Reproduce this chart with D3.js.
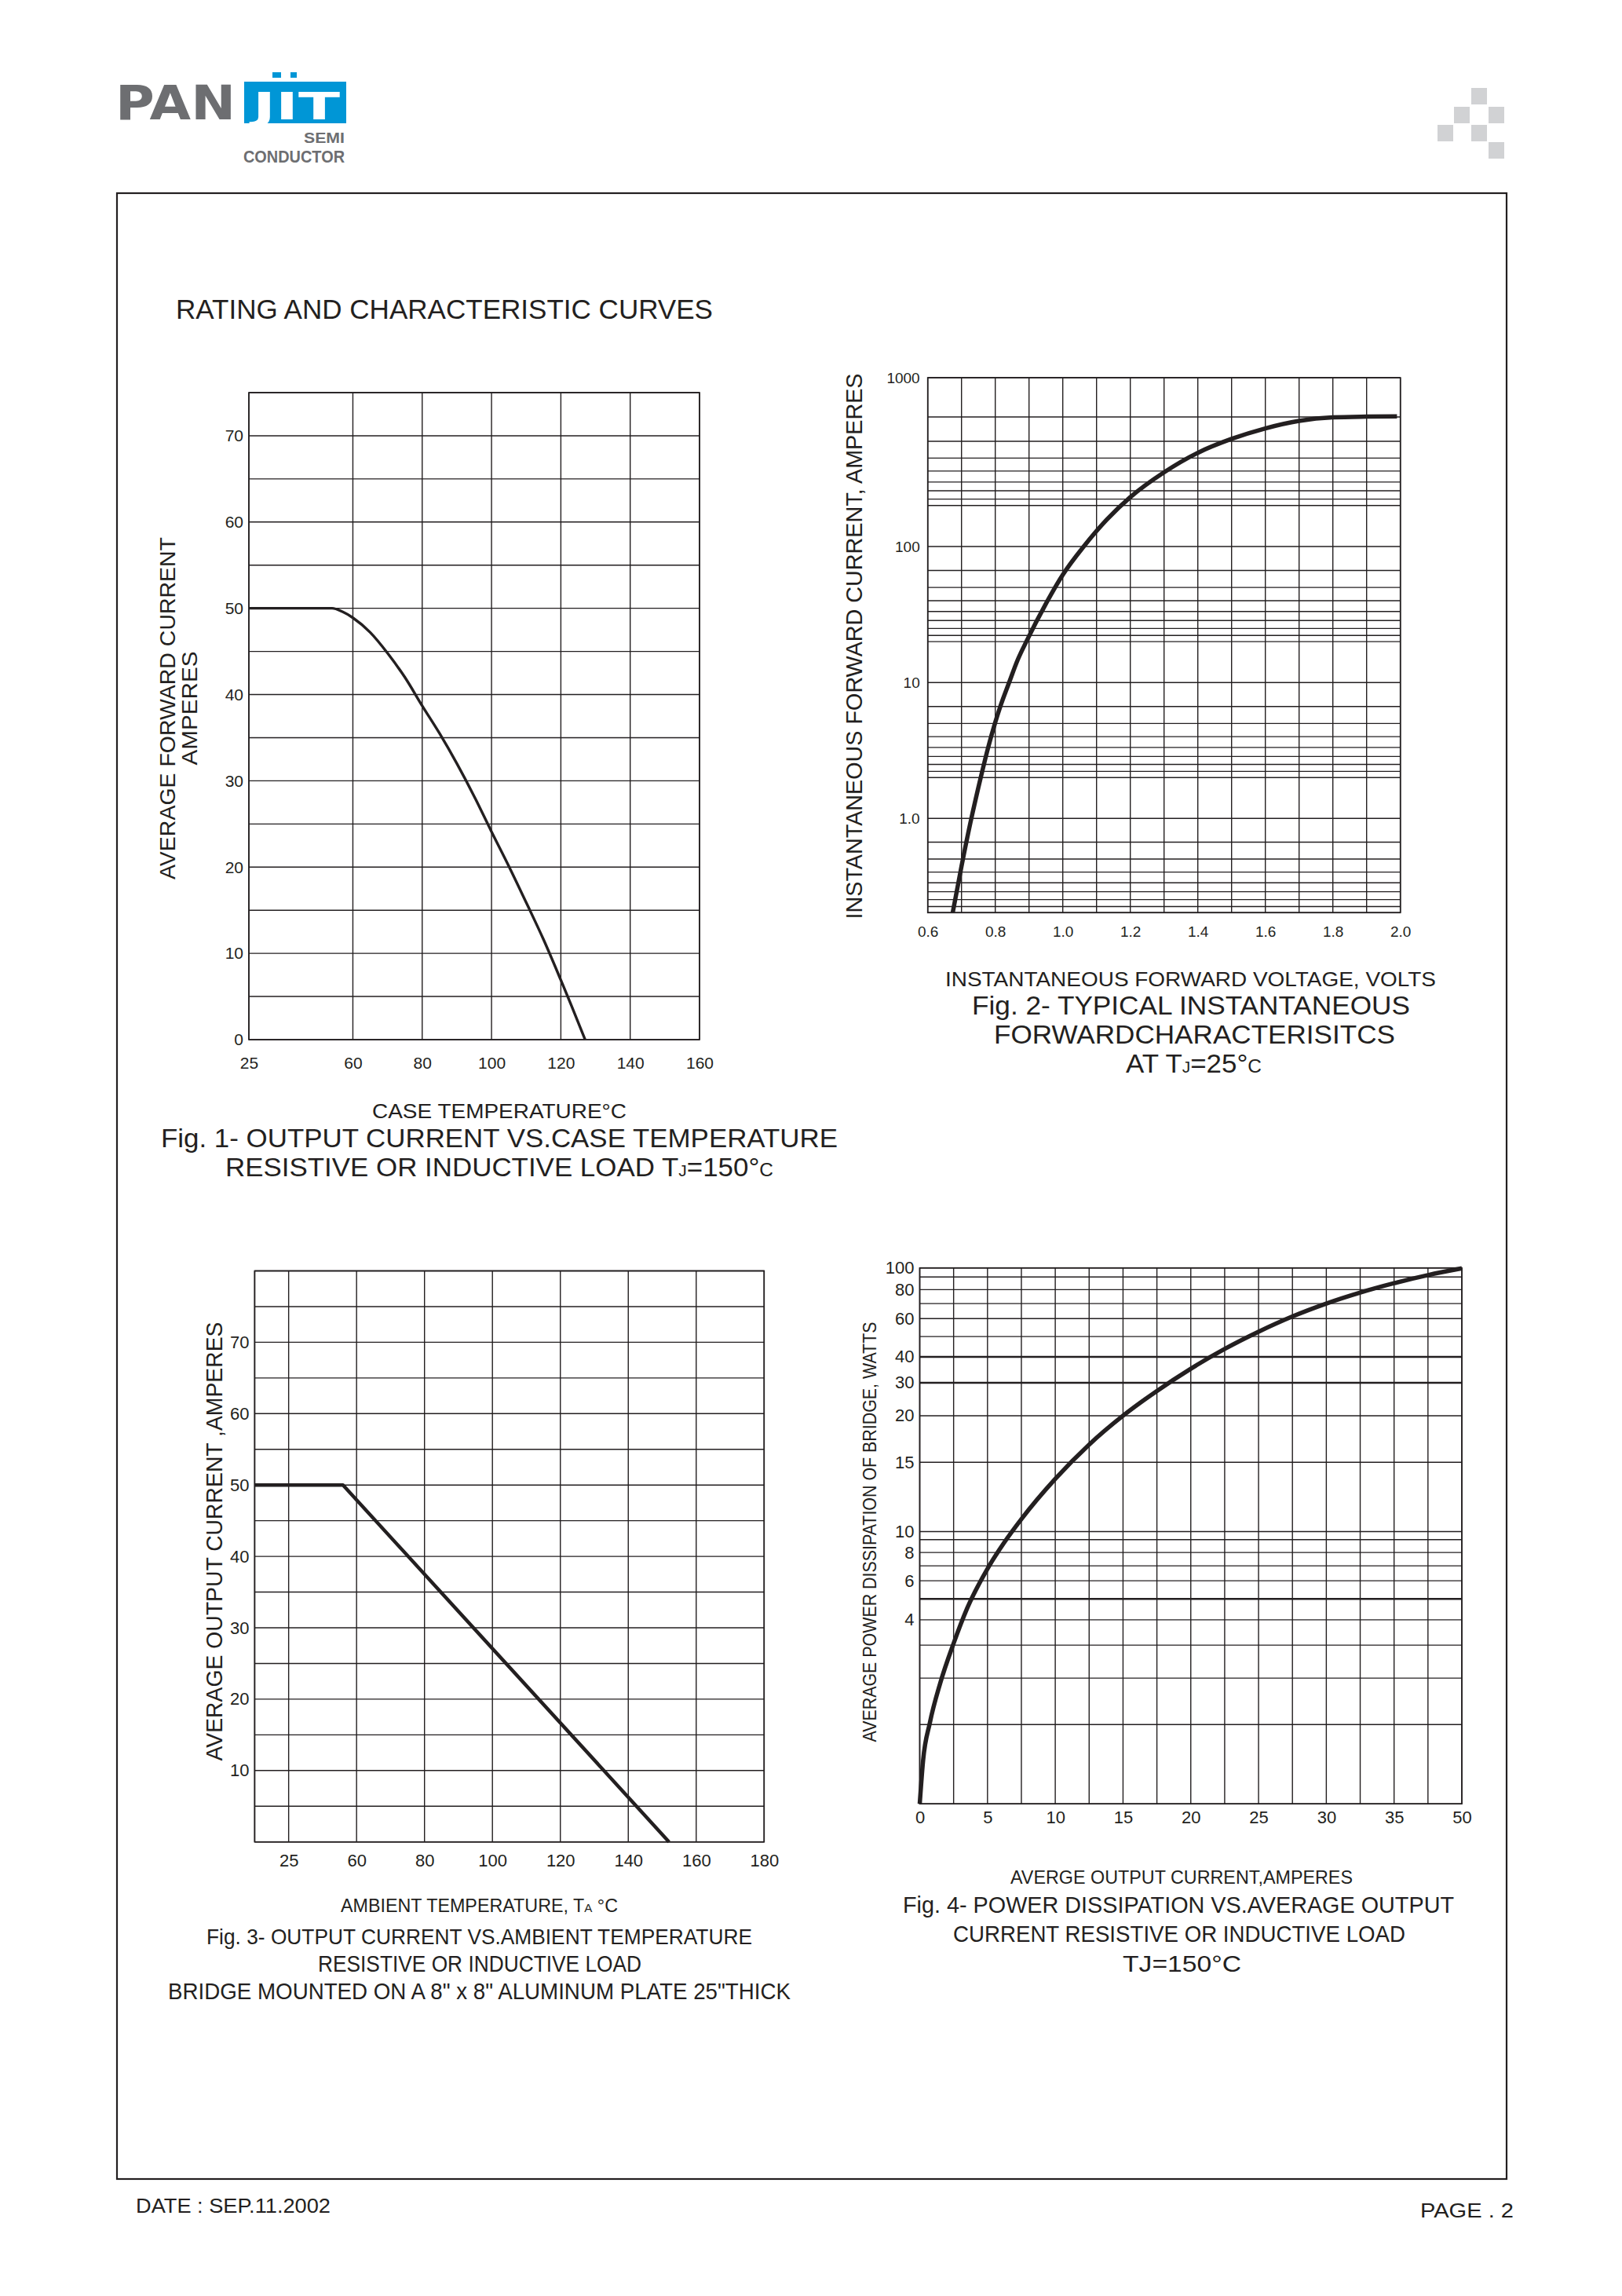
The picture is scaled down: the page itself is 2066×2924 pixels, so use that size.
<!DOCTYPE html>
<html><head><meta charset="utf-8">
<script src="https://cdn.jsdelivr.net/npm/d3@7"></script>
<style>
html,body{margin:0;padding:0;background:#fff;}
svg text{font-family:"Liberation Sans",Arial,Helvetica,sans-serif;fill:#231f20;}
</style></head><body>
<svg id="page" width="2066" height="2924" xmlns="http://www.w3.org/2000/svg"></svg>
<script>
// ---------------- DATA ----------------
// Fig 1: output current vs case temperature
const fig1Temp    = [30, 54, 57, 60, 65, 70, 75, 80, 85, 90, 95, 100, 105, 110, 115, 120, 123, 127];
const fig1Current = [50, 50, 49.6, 48.9, 47.2, 44.8, 42, 38.7, 35.5, 32, 28.2, 24.1, 20.1, 15.9, 11.6, 6.9, 4, 0];
const fig1XTicks  = [30, 60, 80, 100, 120, 140, 160];
const fig1XLabels = ["25", "60", "80", "100", "120", "140", "160"];
const fig1YTicks  = [0, 10, 20, 30, 40, 50, 60, 70];
const fig1YLabels = ["0", "10", "20", "30", "40", "50", "60", "70"];

// Fig 2: typical instantaneous forward characteristics
const fig2Volts = [0.674, 0.70, 0.726, 0.757, 0.779, 0.799, 0.815, 0.841, 0.867, 0.892, 0.95, 1.0, 1.062, 1.13, 1.2, 1.3, 1.4, 1.5, 1.6, 1.7, 1.8, 1.9, 1.99];
const fig2Amps  = [0.2, 0.442, 0.92, 2.0, 3.33, 5.0, 6.67, 10, 14.8, 20, 38, 62, 100, 144, 196, 275, 359, 434, 501, 555, 582, 588, 590];
const fig2XTicks  = [0.6, 0.8, 1.0, 1.2, 1.4, 1.6, 1.8, 2.0];
const fig2XLabels = ["0.6", "0.8", "1.0", "1.2", "1.4", "1.6", "1.8", "2.0"];
const fig2YTicks  = [1000, 100, 10, 1];
const fig2YLabels = ["1000", "100", "10", "1.0"];
const fig2MinorGrid = [585, 420, 334, 280, 241, 214, 191, 175,
                       66.7, 50, 40, 33.3, 28.6, 25, 22.2, 20,
                       6.67, 5, 4, 3.33, 2.86, 2.5, 2.22, 2.0,
                       0.667, 0.5, 0.4, 0.333, 0.286, 0.25, 0.222];

// Fig 3: output current vs ambient temperature
const fig3Temp    = [30, 56, 152];
const fig3Current = [50, 50, 0];
const fig3XTicks  = [40, 60, 80, 100, 120, 140, 160, 180];
const fig3XLabels = ["25", "60", "80", "100", "120", "140", "160", "180"];
const fig3YTicks  = [10, 20, 30, 40, 50, 60, 70];
const fig3YLabels = ["10", "20", "30", "40", "50", "60", "70"];

// Fig 4: power dissipation vs average output current
const fig4Current = [0, 0.25, 0.75, 1.5, 2.5, 3.5, 5, 6.25, 7.5, 10, 12.5, 15, 17.5, 20, 22.5, 25, 27.5, 30, 32.5, 35, 37.5, 40];
const fig4Power   = [0, 0.55, 1.04, 1.88, 3.07, 4.55, 6.8, 8.8, 10.9, 13.8, 16.9, 20, 27.5, 35.4, 43.9, 52.7, 61.4, 70, 77.9, 85.1, 92.1, 99.5];
const fig4XTicks  = [0, 5, 10, 15, 20, 25, 30, 35, 40];
const fig4XLabels = ["0", "5", "10", "15", "20", "25", "30", "35", "50"];
const fig4YTicks  = [100, 80, 60, 40, 30, 20, 15, 10, 8, 6, 4];
const fig4YLabels = ["100", "80", "60", "40", "30", "20", "15", "10", "8", "6", "4"];
const fig4GridY   = [0, 1, 2, 3, 4, 5, 6, 7, 8, 9, 10, 15, 20, 30, 40, 50, 60, 70, 80, 90, 100];
const fig4Heavy   = [40, 30, 5];

// ---------------- DRAWING ----------------
const INK = "#231f20";
const GREY = "#6d6e71";
const svg = d3.select("#page");

function addText(o) {
  const t = (o.parent || svg).append("text")
    .attr("x", o.x || 0).attr("y", o.y || 0)
    .attr("font-size", o.size)
    .attr("text-anchor", o.anchor || "start");
  if (o.len) t.attr("textLength", o.len).attr("lengthAdjust", "spacingAndGlyphs");
  if (o.transform) t.attr("transform", o.transform);
  if (o.weight) t.attr("font-weight", o.weight);
  if (o.family) t.style("font-family", o.family);
  if (o.fill) t.style("fill", o.fill);
  const parts = o.parts || [[o.text, 1]];
  parts.forEach(p => t.append("tspan").attr("font-size", o.size * p[1]).text(p[0]));
  return t;
}

// page frame
svg.append("rect").attr("x", 149).attr("y", 246).attr("width", 1770).attr("height", 2529)
  .attr("fill", "none").attr("stroke", INK).attr("stroke-width", 2.2);

// logo
addText({x: 147, y: 152, size: 60, len: 153, text: "PAN", fill: GREY, weight: "bold", family: "'DejaVu Sans', sans-serif"});
svg.append("rect").attr("x", 311).attr("y", 104).attr("width", 130).attr("height", 53).attr("fill", "#0096d6");
svg.append("rect").attr("x", 347).attr("y", 92).attr("width", 11).attr("height", 7).attr("fill", "#0096d6");
svg.append("rect").attr("x", 370).attr("y", 92).attr("width", 8).attr("height", 7).attr("fill", "#0096d6");
addText({x: 322, y: 152, size: 48, len: 111, text: "JIT", fill: "#ffffff", weight: "bold", family: "'DejaVu Sans', sans-serif"});
addText({x: 439, y: 182, size: 19, anchor: "end", len: 52, text: "SEMI", fill: GREY, weight: "bold"});
addText({x: 439, y: 207, size: 22, anchor: "end", len: 129, text: "CONDUCTOR", fill: GREY, weight: "bold"});

// decorative squares
[[1874,112],[1852,136],[1896,136],[1831,159],[1874,159],[1896,181]].forEach(p =>
  svg.append("rect").attr("x", p[0]).attr("y", p[1]).attr("width", 20).attr("height", 21).attr("fill", "#d1d2d4"));

// heading
addText({x: 224, y: 406, size: 35, len: 684, text: "RATING AND CHARACTERISTIC CURVES"});

function drawPlot(o) {
  const g = svg.append("g");
  const X = o.x;
  const yf = o.yf || (v => v);
  const Y = v => o.y(yf(v));
  const [x0, x1] = o.x.range();
  const top = Math.min(...o.y.range()), bot = Math.max(...o.y.range());
  g.append("g").selectAll("line").data(o.gridX).join("line")
    .attr("x1", X).attr("x2", X).attr("y1", top).attr("y2", bot)
    .attr("stroke", INK).attr("stroke-width", o.gw);
  g.append("g").selectAll("line").data(o.gridY).join("line")
    .attr("x1", x0).attr("x2", x1).attr("y1", Y).attr("y2", Y)
    .attr("stroke", INK).attr("stroke-width", d => (o.heavy || []).includes(d) ? o.gw * 1.8 : o.gw);
  g.append("rect").attr("x", x0).attr("y", top).attr("width", x1 - x0).attr("height", bot - top)
    .attr("fill", "none").attr("stroke", INK).attr("stroke-width", o.gw * 1.2);

  const xa = d3.axisBottom(o.x).tickValues(o.xTicks).tickFormat((d, i) => o.xLabels[i])
    .tickSize(0).tickPadding(o.xPad);
  const gx = g.append("g").attr("transform", `translate(0,${bot})`).call(xa);
  gx.select(".domain").remove();
  gx.selectAll("text").attr("font-size", o.fs);

  const ya = d3.axisLeft(o.y).tickValues(o.yTicks.map(yf)).tickFormat((d, i) => o.yLabels[i])
    .tickSize(0).tickPadding(o.yPad);
  const gy = g.append("g").attr("transform", `translate(${x0},0)`).call(ya);
  gy.select(".domain").remove();
  gy.selectAll("text").attr("font-size", o.fs);

  const line = d3.line().x(d => o.x(d[0])).y(d => Y(d[1])).curve(o.curve);
  g.append("path").datum(d3.zip(o.xs, o.ys)).attr("d", line)
    .attr("fill", "none").attr("stroke", INK).attr("stroke-width", o.cw)
    .attr("stroke-linejoin", "round");
}

// ---- Fig 1 ----
drawPlot({
  x: d3.scaleLinear().domain([30, 160]).range([317, 891]),
  y: d3.scaleLinear().domain([0, 75]).range([1324, 500]),
  gridX: [30, 60, 80, 100, 120, 140, 160],
  gridY: d3.range(0, 76, 5),
  xTicks: fig1XTicks, xLabels: fig1XLabels, yTicks: fig1YTicks, yLabels: fig1YLabels,
  xPad: 22, yPad: 7, fs: 21, gw: 1.4, cw: 3.4,
  xs: fig1Temp, ys: fig1Current, curve: d3.curveMonotoneX
});
addText({transform: "translate(223,902) rotate(-90)", anchor: "middle", size: 28, len: 436, text: "AVERAGE FORWARD CURRENT"});
addText({transform: "translate(251,902) rotate(-90)", anchor: "middle", size: 28, len: 145, text: "AMPERES"});
addText({x: 474, y: 1424, size: 26, len: 324, text: "CASE TEMPERATURE°C"});
addText({x: 205, y: 1461, size: 34, len: 862, text: "Fig. 1- OUTPUT CURRENT VS.CASE TEMPERATURE"});
addText({x: 287, y: 1498, size: 34, len: 698,
  parts: [["RESISTIVE OR INDUCTIVE LOAD T", 1], ["J", 0.6], ["=150°", 1], ["C", 0.7]]});

// ---- Fig 2 ----
const f2top = 481, f2h = 681.3;
drawPlot({
  x: d3.scaleLinear().domain([0.6, 2.0]).range([1181.7, 1783.7]),
  y: d3.scaleLinear().domain([Math.log10(0.2), 0, 1, 2, 3])
       .range([f2top + f2h, f2top + 0.8239 * f2h, f2top + 0.5699 * f2h, f2top + 0.3156 * f2h, f2top]),
  yf: v => Math.log10(v),
  gridX: d3.range(0, 15).map(i => 0.6 + i * 0.1),
  gridY: [1000, 100, 10, 1, 0.2].concat(fig2MinorGrid),
  xTicks: fig2XTicks, xLabels: fig2XLabels, yTicks: fig2YTicks, yLabels: fig2YLabels,
  xPad: 17, yPad: 10, fs: 19, gw: 1.4, cw: 5.5,
  xs: fig2Volts, ys: fig2Amps, curve: d3.curveMonotoneX
});
addText({transform: "translate(1098,823) rotate(-90)", anchor: "middle", size: 30, len: 695, text: "INSTANTANEOUS FORWARD CURRENT, AMPERES"});
addText({x: 1204, y: 1256, size: 26, len: 625, text: "INSTANTANEOUS FORWARD VOLTAGE, VOLTS"});
addText({x: 1238, y: 1292, size: 34, len: 558, text: "Fig. 2- TYPICAL INSTANTANEOUS"});
addText({x: 1266, y: 1329, size: 34, len: 511, text: "FORWARDCHARACTERISITCS"});
addText({x: 1434, y: 1366, size: 34, len: 173,
  parts: [["AT T", 1], ["J", 0.6], ["=25°", 1], ["C", 0.7]]});

// ---- Fig 3 ----
drawPlot({
  x: d3.scaleLinear().domain([30, 180]).range([324.4, 973.3]),
  y: d3.scaleLinear().domain([0, 80]).range([2345.7, 1618.5]),
  gridX: [30, 40, 60, 80, 100, 120, 140, 160, 180],
  gridY: d3.range(0, 81, 5),
  xTicks: fig3XTicks, xLabels: fig3XLabels, yTicks: fig3YTicks, yLabels: fig3YLabels,
  xPad: 16, yPad: 7, fs: 22, gw: 1.4, cw: 4.5,
  xs: fig3Temp, ys: fig3Current, curve: d3.curveLinear
});
addText({transform: "translate(283,1963) rotate(-90)", anchor: "middle", size: 30, len: 559, text: "AVERAGE OUTPUT CURRENT ,AMPERES"});
addText({x: 434, y: 2435, size: 23, len: 353,
  parts: [["AMBIENT TEMPERATURE, T", 1], ["A", 0.65], [" °C", 1]]});
addText({x: 263, y: 2476, size: 28, len: 695, text: "Fig. 3- OUTPUT CURRENT VS.AMBIENT TEMPERATURE"});
addText({x: 405, y: 2511, size: 29, len: 412, text: "RESISTIVE OR INDUCTIVE LOAD"});
addText({x: 214, y: 2546, size: 29, len: 793, text: "BRIDGE MOUNTED ON A 8\" x 8\" ALUMINUM PLATE 25\"THICK"});

// ---- Fig 4 ----
const f4top = 1614.7, f4h = 682.5;
const f4Frac = [1, 0.8520, 0.7655, 0.7039, 0.6566, 0.6175, 0.5838, 0.5559, 0.5310, 0.5071, 0.4920,
                0.3627, 0.2758, 0.2142, 0.1659, 0.1281, 0.0945, 0.0665, 0.0406, 0.0169, 0];
drawPlot({
  x: d3.scaleLinear().domain([0, 40]).range([1171.5, 1862]),
  y: d3.scaleLinear().domain(fig4GridY).range(f4Frac.map(f => f4top + f * f4h)),
  gridX: d3.range(0, 17).map(i => i * 2.5),
  gridY: fig4GridY, heavy: fig4Heavy,
  xTicks: fig4XTicks, xLabels: fig4XLabels, yTicks: fig4YTicks, yLabels: fig4YLabels,
  xPad: 9, yPad: 7, fs: 22, gw: 1.4, cw: 5.5,
  xs: fig4Current, ys: fig4Power, curve: d3.curveMonotoneX
});
addText({transform: "translate(1116,1951) rotate(-90)", anchor: "middle", size: 23, len: 535, text: "AVERAGE POWER DISSIPATION OF BRIDGE, WATTS"});
addText({x: 1287, y: 2399, size: 24, len: 436, text: "AVERGE OUTPUT CURRENT,AMPERES"});
addText({x: 1150, y: 2436, size: 29, len: 702, text: "Fig. 4- POWER DISSIPATION  VS.AVERAGE OUTPUT"});
addText({x: 1214, y: 2473, size: 29, len: 576, text: "CURRENT RESISTIVE OR INDUCTIVE LOAD"});
addText({x: 1430, y: 2511, size: 29, len: 151, text: "TJ=150°C"});

// footer
addText({x: 173, y: 2818, size: 26, len: 248, text: "DATE : SEP.11.2002"});
addText({x: 1809, y: 2824, size: 26, len: 119, text: "PAGE . 2"});
</script>
</body></html>
